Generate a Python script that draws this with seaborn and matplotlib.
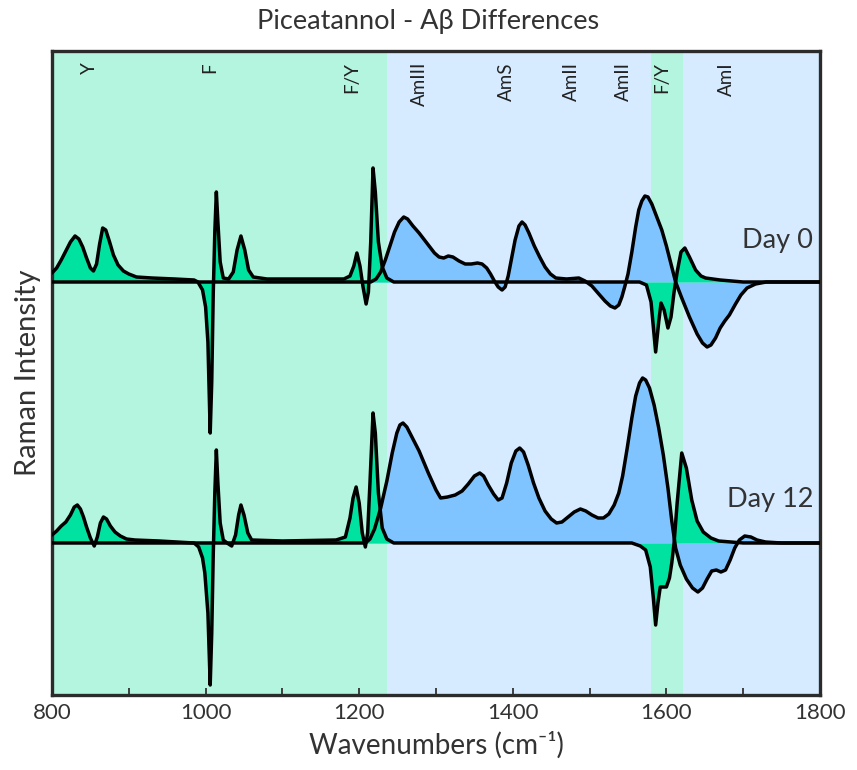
import numpy as np
import matplotlib
matplotlib.use("Agg")
import matplotlib.pyplot as plt
import seaborn as sns

# ---------------- data ----------------
# Day 0 - aromatic side-chain difference curve (Y, F, F/Y bands)
d0_arom_x = [800, 806, 812, 818, 824, 830, 835, 840, 845, 850, 854, 858, 862, 866, 870, 875, 880, 886,
             893, 900, 910, 930, 960, 985, 990, 996, 1000, 1003, 1006, 1008, 1010, 1012, 1014, 1016,
             1019, 1023, 1030, 1036, 1041, 1046, 1051, 1056, 1062, 1080, 1120, 1160, 1180, 1188, 1193,
             1197, 1201, 1205, 1209, 1212, 1215, 1218, 1221, 1225, 1230, 1236, 1245, 1565, 1574, 1580,
             1586, 1590, 1593, 1597, 1602, 1606, 1610, 1614, 1619, 1624, 1630, 1638, 1645, 1651, 1670,
             1700, 1800]
d0_arom_y = [9, 14, 22, 31, 40, 46, 43, 35, 24, 14, 11, 18, 38, 54, 52, 40, 27, 17,
             11, 8, 5, 4, 3, 2, 0, -8, -25, -60, -151, -100, -10, 50, 90, 60,
             20, 4, 3, 10, 32, 46, 32, 12, 5, 3, 3, 3, 3, 6, 16,
             29, 16, -5, -22, -10, 40, 114, 90, 40, 15, 4, 0, 0, -3, -20,
             -70, -40, -21, -28, -46, -35, -10, 10, 30, 34, 25, 12, 6, 4, 2,
             0, 0]
# Day 0 - amide difference curve (AmIII, AmS, AmII, AmI)
d0_amide_x = [800, 1215, 1222, 1228, 1234, 1240, 1246, 1252, 1258, 1263, 1270, 1278, 1290, 1298, 1304,
              1310, 1316, 1322, 1330, 1338, 1346, 1354, 1360, 1366, 1371, 1376, 1381, 1386, 1390, 1394,
              1398, 1403, 1408, 1412, 1416, 1421, 1428, 1435, 1442, 1449, 1456, 1470, 1486, 1494, 1503,
              1512, 1520, 1527, 1533, 1538, 1542, 1546, 1550, 1555, 1560, 1564, 1568, 1572, 1576, 1581,
              1587, 1594, 1600, 1606, 1612, 1620, 1630, 1640, 1647, 1653, 1658, 1664, 1670, 1676, 1682,
              1690, 1697, 1705, 1716, 1730, 1800]
d0_amide_y = [0, 0, 3, 10, 22, 36, 50, 60, 65, 63, 56, 49, 37, 29, 25,
              24, 26, 25, 21, 18, 18, 19, 18, 14, 8, 1, -5, -8, -5, 6,
              22, 42, 56, 60, 57, 49, 36, 25, 15, 8, 4, 3, 4, 1, -4,
              -12, -19, -24, -26, -23, -15, -4, 8, 30, 55, 72, 81, 86, 85, 78,
              66, 52, 36, 18, 0, -16, -35, -52, -61, -65, -63, -56, -46, -39, -33,
              -22, -13, -6, -2, 0, 0]

# Day 12 - aromatic side-chain difference curve
d12_arom_x = [800, 806, 812, 818, 824, 829, 833, 837, 841, 845, 850, 855, 859, 863, 867, 871, 876, 882,
              889, 897, 908, 940, 985, 991, 996, 999, 1003, 1006, 1008, 1010, 1012, 1014, 1016, 1019,
              1023, 1028, 1034, 1039, 1043, 1046, 1050, 1055, 1060, 1100, 1170, 1182, 1188, 1192, 1196,
              1200, 1204, 1208, 1211, 1214, 1218, 1221, 1225, 1230, 1236, 1245, 1555, 1566, 1573, 1579,
              1583, 1586, 1589, 1592, 1600, 1604, 1607, 1610, 1614, 1620, 1626, 1633, 1640, 1648, 1658,
              1668, 1700, 1800]
d12_arom_y = [8, 12, 17, 21, 28, 36, 38, 34, 26, 16, 5, -3, 6, 20, 26, 24, 17, 11,
              7, 4, 3, 2, 0, -4, -15, -30, -70, -142, -90, -10, 50, 93, 60, 20,
              3, 0, -3, 8, 28, 38, 28, 10, 3, 2, 3, 6, 25, 45, 56,
              40, 10, -4, 10, 60, 130, 110, 50, 15, 4, 0, 0, -3, -7, -24,
              -55, -82, -60, -44, -44, -35, -20, 0, 40, 90, 75, 43, 22, 11, 5,
              2, 0, 0]
# Day 12 - amide difference curve
d12_amide_x = [800, 1208, 1214, 1220, 1228, 1236, 1243, 1249, 1253, 1257, 1262, 1270, 1278, 1290, 1300,
               1306, 1315, 1325, 1334, 1342, 1350, 1357, 1362, 1368, 1375, 1381, 1386, 1392, 1398, 1404,
               1409, 1414, 1420, 1427, 1434, 1442, 1450, 1457, 1464, 1472, 1480, 1488, 1495, 1503, 1511,
               1518, 1525, 1532, 1538, 1543, 1549, 1555, 1560, 1565, 1569, 1573, 1578, 1584, 1590, 1596,
               1602, 1607, 1612, 1618, 1626, 1634, 1641, 1647, 1653, 1659, 1665, 1671, 1677, 1683, 1689,
               1695, 1702, 1710, 1718, 1729, 1750, 1800]
d12_amide_y = [0, 0, 4, 14, 35, 62, 90, 110, 118, 120, 116, 104, 92, 70, 53,
               45, 46, 48, 52, 59, 67, 70, 67, 58, 49, 43, 45, 60, 80, 92,
               95, 91, 78, 60, 45, 32, 24, 20, 21, 26, 31, 34, 32, 28, 25,
               25, 29, 38, 50, 67, 95, 125, 147, 160, 165, 163, 155, 138, 115, 88,
               55, 22, -5, -22, -36, -45, -49, -45, -36, -28, -27, -29, -27, -17, -5,
               3, 7, 6, 3, 1, 0, 0]

day_labels = ["Day 0", "Day 12"]
day_offsets = [413, 152]

# shaded assignment regions (cm-1)
region_start = [800, 1236, 1580, 1621]
region_end = [1236, 1580, 1621, 1800]
region_kind = ["aromatic", "amide", "aromatic", "amide"]

band_labels = ["Y", "F", "F/Y", "AmIII", "AmS", "AmII", "AmII", "F/Y", "AmI"]
band_pos = [849, 1005, 1190, 1278, 1392, 1477, 1544, 1594, 1678]

# ---------------- styling ----------------
bg_color = {"aromatic": "#B3F5DF", "amide": "#D6EBFF"}
fill_color = {"aromatic": "#00E2A0", "amide": "#80C4FF"}

sns.set_theme(style="white")
plt.rcParams["font.family"] = ["Lato", "DejaVu Sans"]
text_color = "#333333"

fig = plt.figure(figsize=(8.57, 7.70), dpi=100)
ax = fig.add_axes([52 / 857, 75 / 770, 768 / 857, 644 / 770])
ax.set_xlim(800, 1800)
ax.set_ylim(0, 644)

for x0, x1, kind in zip(region_start, region_end, region_kind):
    ax.axvspan(x0, x1, color=bg_color[kind], lw=0, zorder=0)

curves = [
    (d0_amide_x, d0_amide_y, 0, "amide"),
    (d12_amide_x, d12_amide_y, 1, "amide"),
    (d0_arom_x, d0_arom_y, 0, "aromatic"),
    (d12_arom_x, d12_arom_y, 1, "aromatic"),
]

# coloured fills between each difference curve and its zero line
for i, (cx, cy, di, kind) in enumerate(curves):
    xs = np.asarray(cx, float)
    ys = np.asarray(cy, float) + day_offsets[di]
    ax.fill_between(xs, ys, day_offsets[di], color=fill_color[kind], lw=0, zorder=1 + 0.1 * i)

# black spectral lines
for cx, cy, di, kind in curves:
    ys = np.asarray(cy, float) + day_offsets[di]
    sns.lineplot(x=np.asarray(cx, float), y=ys, ax=ax, color="black", lw=2.5,
                 sort=False, estimator=None, zorder=3,
                 solid_joinstyle="round", solid_capstyle="round")

# day labels
ax.text(1791, day_offsets[0] + 42, day_labels[0], ha="right", va="center",
        fontsize=19.5, color=text_color, zorder=4)
ax.text(1791, day_offsets[1] + 43, day_labels[1], ha="right", va="center",
        fontsize=19.5, color=text_color, zorder=4)

# band assignment labels along the top
for lab, pos in zip(band_labels, band_pos):
    ax.text(pos, 633, lab, rotation=90, ha="center", va="top",
            fontsize=13.5, color="#222222", zorder=4)

# axes cosmetics
ax.set_xticks([800, 1000, 1200, 1400, 1600, 1800])
ax.set_xticks(np.arange(900, 1800, 200), minor=True)
ax.set_yticks([])
ax.tick_params(axis="x", which="both", direction="in", length=5, width=1.3,
               colors="#333333", labelsize=16, pad=6, bottom=True)
for lab in ax.get_xticklabels():
    lab.set_color(text_color)
for sp in ax.spines.values():
    sp.set_color("#2b2b2b")
    sp.set_linewidth(2.4)
ax.set_xlabel("Wavenumbers (cm\u207b\u00b9)", fontsize=20, color=text_color, labelpad=6)
ax.set_ylabel("Raman Intensity", fontsize=21, color=text_color, labelpad=8)
fig.text(0.5, 1 - 22 / 770, "Piceatannol - A\u03b2 Differences", ha="center", va="center",
         fontsize=19.5, color=text_color)

fig.savefig("out.png", dpi=100)
